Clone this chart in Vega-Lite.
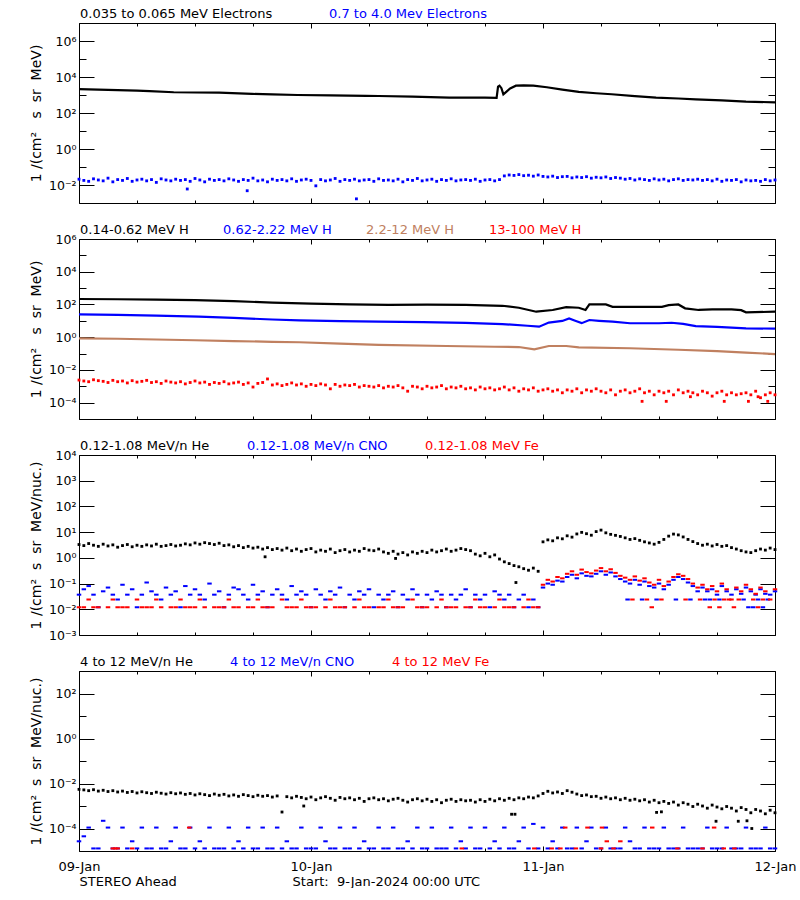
{
"$schema":"https://vega.github.io/schema/vega-lite/v6.json",
"padding":{"left":29,"top":7,"right":0,"bottom":0},
"spacing":13,
"resolve":{"scale":{"color":"independent"},"legend":{"color":"independent"}},
"config":{"font":"DejaVu Sans","view":{"stroke":null},
"axis":{"domainColor":"black","tickColor":"black","labelColor":"black","titleColor":"black","grid":false,"labelFontSize":12.5,"titleFontSize":14,"titleFontWeight":"normal","domainWidth":1,"tickWidth":1,"labelFlush":false,"labelOverlap":false},
"legend":{"orient":"top","direction":"horizontal","title":null,"symbolSize":0,"symbolOpacity":0,"symbolStrokeWidth":0,"labelOffset":-12,"labelFontSize":13,"labelLimit":500,"offset":1,"padding":0}},
"datasets":{
"p1a":[{"t":0,"v":2100},{"t":3,"v":1950},{"t":6,"v":1750},{"t":7.3,"v":1660},{"t":9.8,"v":1420},{"t":12,"v":1380},{"t":14.5,"v":1350},{"t":17.9,"v":1150},{"t":20,"v":1080},{"t":22.6,"v":1000},{"t":26,"v":950},{"t":29.7,"v":890},{"t":31,"v":880},{"t":34.5,"v":810},{"t":38.3,"v":720},{"t":42,"v":710},{"t":43.2,"v":700},{"t":43.35,"v":2900},{"t":43.5,"v":3300},{"t":43.7,"v":2400},{"t":43.9,"v":1100},{"t":44.2,"v":1500},{"t":44.6,"v":2300},{"t":45.2,"v":3300},{"t":46,"v":3450},{"t":47,"v":3300},{"t":48.4,"v":2700},{"t":50,"v":2000},{"t":51.7,"v":1500},{"t":53.5,"v":1250},{"t":55.1,"v":1100},{"t":57.5,"v":870},{"t":59.7,"v":710},{"t":62,"v":640},{"t":63.8,"v":575},{"t":66.5,"v":500},{"t":69,"v":430},{"t":72,"v":390}],
"p1b":[{"t":0,"v":0.021},{"t":0.5,"v":0.018},{"t":1,"v":0.016},{"t":1.5,"v":0.022},{"t":2,"v":0.019},{"t":2.5,"v":0.017},{"t":3,"v":0.024},{"t":3.5,"v":0.015},{"t":4,"v":0.02},{"t":4.5,"v":0.018},{"t":5,"v":0.023},{"t":5.5,"v":0.016},{"t":6,"v":0.019},{"t":6.5,"v":0.021},{"t":7,"v":0.017},{"t":7.5,"v":0.02},{"t":8,"v":0.014},{"t":8.5,"v":0.022},{"t":9,"v":0.019},{"t":9.5,"v":0.017},{"t":10,"v":0.021},{"t":10.5,"v":0.018},{"t":11,"v":0.02},{"t":11.2,"v":0.006},{"t":11.5,"v":0.016},{"t":12,"v":0.023},{"t":12.5,"v":0.019},{"t":13,"v":0.015},{"t":13.5,"v":0.021},{"t":14,"v":0.018},{"t":14.5,"v":0.02},{"t":15,"v":0.017},{"t":15.5,"v":0.022},{"t":16,"v":0.019},{"t":16.5,"v":0.016},{"t":17,"v":0.02},{"t":17.4,"v":0.0048},{"t":17.5,"v":0.018},{"t":18,"v":0.024},{"t":18.5,"v":0.017},{"t":19,"v":0.019},{"t":19.5,"v":0.015},{"t":20,"v":0.021},{"t":20.5,"v":0.018},{"t":21,"v":0.02},{"t":21.5,"v":0.017},{"t":22,"v":0.022},{"t":22.5,"v":0.016},{"t":23,"v":0.019},{"t":23.5,"v":0.021},{"t":24,"v":0.018},{"t":24.5,"v":0.009},{"t":25,"v":0.02},{"t":25.5,"v":0.017},{"t":26,"v":0.019},{"t":26.5,"v":0.023},{"t":27,"v":0.016},{"t":27.5,"v":0.02},{"t":28,"v":0.018},{"t":28.5,"v":0.021},{"t":28.7,"v":0.0017},{"t":29,"v":0.017},{"t":29.5,"v":0.019},{"t":30,"v":0.02},{"t":30.5,"v":0.016},{"t":31,"v":0.022},{"t":31.5,"v":0.018},{"t":32,"v":0.019},{"t":32.5,"v":0.017},{"t":33,"v":0.021},{"t":33.5,"v":0.015},{"t":34,"v":0.02},{"t":34.5,"v":0.018},{"t":35,"v":0.023},{"t":35.5,"v":0.017},{"t":36,"v":0.019},{"t":36.5,"v":0.021},{"t":37,"v":0.016},{"t":37.5,"v":0.02},{"t":38,"v":0.018},{"t":38.5,"v":0.022},{"t":39,"v":0.017},{"t":39.5,"v":0.019},{"t":40,"v":0.02},{"t":40.5,"v":0.018},{"t":41,"v":0.021},{"t":41.5,"v":0.016},{"t":42,"v":0.019},{"t":42.5,"v":0.02},{"t":43,"v":0.017},{"t":43.5,"v":0.02},{"t":44,"v":0.032},{"t":44.5,"v":0.036},{"t":45,"v":0.034},{"t":45.5,"v":0.038},{"t":46,"v":0.033},{"t":46.5,"v":0.035},{"t":47,"v":0.031},{"t":47.5,"v":0.036},{"t":48,"v":0.03},{"t":48.5,"v":0.028},{"t":49,"v":0.031},{"t":49.5,"v":0.026},{"t":50,"v":0.029},{"t":50.5,"v":0.03},{"t":51,"v":0.025},{"t":51.5,"v":0.028},{"t":52,"v":0.026},{"t":52.5,"v":0.029},{"t":53,"v":0.024},{"t":53.5,"v":0.027},{"t":54,"v":0.025},{"t":54.5,"v":0.028},{"t":55,"v":0.023},{"t":55.5,"v":0.026},{"t":56,"v":0.024},{"t":56.5,"v":0.021},{"t":57,"v":0.023},{"t":57.5,"v":0.019},{"t":58,"v":0.022},{"t":58.5,"v":0.02},{"t":59,"v":0.018},{"t":59.5,"v":0.022},{"t":60,"v":0.019},{"t":60.5,"v":0.021},{"t":61,"v":0.017},{"t":61.5,"v":0.02},{"t":62,"v":0.022},{"t":62.5,"v":0.018},{"t":63,"v":0.02},{"t":63.5,"v":0.019},{"t":64,"v":0.021},{"t":64.5,"v":0.018},{"t":65,"v":0.02},{"t":65.5,"v":0.017},{"t":66,"v":0.021},{"t":66.5,"v":0.016},{"t":67,"v":0.019},{"t":67.5,"v":0.018},{"t":68,"v":0.02},{"t":68.5,"v":0.015},{"t":69,"v":0.019},{"t":69.5,"v":0.017},{"t":70,"v":0.018},{"t":70.5,"v":0.016},{"t":71,"v":0.02},{"t":71.5,"v":0.017},{"t":72,"v":0.019}],
"p2a":[{"t":0,"v":215},{"t":4,"v":208},{"t":8,"v":195},{"t":12,"v":182},{"t":16,"v":162},{"t":20,"v":128},{"t":24,"v":112},{"t":28,"v":102},{"t":32,"v":95},{"t":36,"v":98},{"t":40,"v":95},{"t":43.8,"v":83},{"t":45.5,"v":63},{"t":47.3,"v":36},{"t":49,"v":46},{"t":50.4,"v":69},{"t":51.7,"v":63},{"t":52.4,"v":46},{"t":52.8,"v":100},{"t":54.5,"v":100},{"t":55.2,"v":72},{"t":60.3,"v":72},{"t":61,"v":91},{"t":62,"v":100},{"t":62.7,"v":58},{"t":64.1,"v":46},{"t":65.5,"v":50},{"t":67.5,"v":50},{"t":68.5,"v":45},{"t":69,"v":33},{"t":72,"v":36}],
"p2b":[{"t":0,"v":25},{"t":4,"v":23},{"t":8,"v":21},{"t":12.4,"v":17.8},{"t":16,"v":15},{"t":20,"v":12},{"t":22.8,"v":10.7},{"t":27,"v":9.5},{"t":31,"v":8.9},{"t":35.6,"v":8.3},{"t":40,"v":7.4},{"t":43.8,"v":6.3},{"t":46.4,"v":5},{"t":47.6,"v":4.4},{"t":48.6,"v":7.8},{"t":50,"v":9.8},{"t":50.7,"v":14},{"t":51.4,"v":9.8},{"t":52,"v":7.2},{"t":52.8,"v":11.2},{"t":53.8,"v":10},{"t":55.2,"v":8.9},{"t":57,"v":7.1},{"t":60,"v":7.1},{"t":61.3,"v":7.6},{"t":62.5,"v":6.5},{"t":63.8,"v":4.8},{"t":66,"v":4.3},{"t":69,"v":3.5},{"t":72,"v":3.3}],
"p2c":[{"t":0,"v":0.85},{"t":4,"v":0.8},{"t":8,"v":0.72},{"t":12,"v":0.65},{"t":16,"v":0.58},{"t":20,"v":0.52},{"t":22.8,"v":0.49},{"t":27,"v":0.4},{"t":31,"v":0.34},{"t":38,"v":0.29},{"t":43,"v":0.26},{"t":45.5,"v":0.25},{"t":47.1,"v":0.18},{"t":48.6,"v":0.29},{"t":50.4,"v":0.29},{"t":51.7,"v":0.24},{"t":57,"v":0.21},{"t":62,"v":0.17},{"t":66,"v":0.14},{"t":69,"v":0.115},{"t":72,"v":0.093}],
"p2d":[{"t":0,"v":0.0024},{"t":0.5,"v":0.0021},{"t":1,"v":0.0019},{"t":1.5,"v":0.0025},{"t":2,"v":0.0022},{"t":2.5,"v":0.002},{"t":3,"v":0.0017},{"t":3.5,"v":0.0023},{"t":4,"v":0.0019},{"t":4.5,"v":0.0021},{"t":5,"v":0.0016},{"t":5.5,"v":0.0022},{"t":6,"v":0.0018},{"t":6.5,"v":0.002},{"t":7,"v":0.0023},{"t":7.5,"v":0.0017},{"t":8,"v":0.0019},{"t":8.5,"v":0.0015},{"t":9,"v":0.0021},{"t":9.5,"v":0.0018},{"t":10,"v":0.0016},{"t":10.5,"v":0.0019},{"t":11,"v":0.0014},{"t":11.5,"v":0.0017},{"t":12,"v":0.0021},{"t":12.5,"v":0.0016},{"t":13,"v":0.0018},{"t":13.5,"v":0.0013},{"t":14,"v":0.0017},{"t":14.5,"v":0.0015},{"t":15,"v":0.0019},{"t":15.5,"v":0.0014},{"t":16,"v":0.0016},{"t":16.5,"v":0.0018},{"t":17,"v":0.0013},{"t":17.5,"v":0.0016},{"t":18,"v":0.0009},{"t":18.5,"v":0.0015},{"t":19,"v":0.0017},{"t":19.5,"v":0.0028},{"t":20,"v":0.0012},{"t":20.5,"v":0.0014},{"t":21,"v":0.0011},{"t":21.5,"v":0.0013},{"t":22,"v":0.0016},{"t":22.5,"v":0.0012},{"t":23,"v":0.0014},{"t":23.5,"v":0.001},{"t":24,"v":0.0013},{"t":24.5,"v":0.0011},{"t":25,"v":0.0014},{"t":25.5,"v":0.0012},{"t":26,"v":0.0007},{"t":26.5,"v":0.0013},{"t":27,"v":0.001},{"t":27.5,"v":0.0012},{"t":28,"v":0.0011},{"t":28.5,"v":0.0013},{"t":29,"v":0.0009},{"t":29.5,"v":0.0011},{"t":30,"v":0.001},{"t":30.5,"v":0.0009},{"t":31,"v":0.0011},{"t":31.5,"v":0.0008},{"t":32,"v":0.001},{"t":32.5,"v":0.0009},{"t":33,"v":0.0011},{"t":33.5,"v":0.0008},{"t":34,"v":0.0005},{"t":34.5,"v":0.001},{"t":35,"v":0.0009},{"t":35.5,"v":0.0007},{"t":36,"v":0.001},{"t":36.5,"v":0.0008},{"t":37,"v":0.0009},{"t":37.5,"v":0.0011},{"t":38,"v":0.0007},{"t":38.5,"v":0.0009},{"t":39,"v":0.0008},{"t":39.5,"v":0.001},{"t":40,"v":0.0007},{"t":40.5,"v":0.0008},{"t":41,"v":0.0006},{"t":41.5,"v":0.0009},{"t":42,"v":0.0007},{"t":42.5,"v":0.0008},{"t":43,"v":0.0006},{"t":43.5,"v":0.0007},{"t":44,"v":0.0009},{"t":44.5,"v":0.0006},{"t":45,"v":0.0008},{"t":45.5,"v":0.0005},{"t":46,"v":0.0007},{"t":46.5,"v":0.0006},{"t":47,"v":0.0008},{"t":47.5,"v":0.0005},{"t":48,"v":0.0006},{"t":48.5,"v":0.0007},{"t":49,"v":0.0005},{"t":49.5,"v":0.0006},{"t":50,"v":0.0004},{"t":50.5,"v":0.0006},{"t":51,"v":0.0005},{"t":51.5,"v":0.0007},{"t":52,"v":0.0004},{"t":52.5,"v":0.0006},{"t":53,"v":0.0005},{"t":53.5,"v":0.0007},{"t":54,"v":0.0005},{"t":54.5,"v":0.0004},{"t":55,"v":0.0006},{"t":55.5,"v":0.0003},{"t":56,"v":0.0005},{"t":56.5,"v":0.0006},{"t":57,"v":0.0004},{"t":57.5,"v":0.0005},{"t":58,"v":0.0007},{"t":58.25,"v":0.00012},{"t":58.5,"v":0.0004},{"t":59,"v":0.0005},{"t":59.5,"v":0.0003},{"t":60,"v":0.0005},{"t":60.5,"v":0.0004},{"t":60.75,"v":0.00012},{"t":61,"v":0.0005},{"t":61.5,"v":0.0003},{"t":62,"v":0.0006},{"t":62.5,"v":0.0004},{"t":63,"v":0.0005},{"t":63.25,"v":0.00023},{"t":63.5,"v":0.0004},{"t":64,"v":0.0003},{"t":64.5,"v":0.0005},{"t":65,"v":0.0004},{"t":65.5,"v":0.00025},{"t":66,"v":0.0004},{"t":66.5,"v":0.0005},{"t":66.75,"v":0.00012},{"t":67,"v":0.0003},{"t":67.5,"v":0.0004},{"t":68,"v":0.0003},{"t":68.5,"v":0.00035},{"t":69,"v":0.0004},{"t":69.25,"v":0.00012},{"t":69.5,"v":0.0003},{"t":70,"v":0.0005},{"t":70.25,"v":0.00023},{"t":70.5,"v":0.0002},{"t":71,"v":0.0003},{"t":71.25,"v":0.00012},{"t":71.5,"v":0.0004},{"t":72,"v":0.0003}],
"p3a":[{"t":0,"v":3.3},{"t":0.5,"v":3.0},{"t":1,"v":3.6},{"t":1.5,"v":3.1},{"t":2,"v":2.8},{"t":2.5,"v":3.4},{"t":3,"v":2.9},{"t":3.5,"v":3.2},{"t":4,"v":2.6},{"t":4.5,"v":3.0},{"t":5,"v":3.3},{"t":5.5,"v":2.7},{"t":6,"v":3.1},{"t":6.5,"v":2.8},{"t":7,"v":3.2},{"t":7.5,"v":2.9},{"t":8,"v":3.4},{"t":8.5,"v":2.8},{"t":9,"v":3.0},{"t":9.5,"v":3.3},{"t":10,"v":2.9},{"t":10.5,"v":3.1},{"t":11,"v":3.5},{"t":11.5,"v":3.2},{"t":12,"v":3.8},{"t":12.5,"v":3.4},{"t":13,"v":3.9},{"t":13.5,"v":3.6},{"t":14,"v":3.3},{"t":14.5,"v":3.7},{"t":15,"v":3.0},{"t":15.5,"v":3.2},{"t":16,"v":2.7},{"t":16.5,"v":3.0},{"t":17,"v":2.5},{"t":17.5,"v":2.8},{"t":18,"v":2.4},{"t":18.5,"v":2.6},{"t":19,"v":2.2},{"t":19.25,"v":1.1},{"t":19.5,"v":2.5},{"t":20,"v":2.1},{"t":20.5,"v":2.3},{"t":21,"v":2.0},{"t":21.5,"v":2.4},{"t":22,"v":1.9},{"t":22.5,"v":2.2},{"t":23,"v":1.8},{"t":23.5,"v":2.1},{"t":24,"v":2.3},{"t":24.5,"v":1.7},{"t":25,"v":2.0},{"t":25.5,"v":1.8},{"t":26,"v":2.2},{"t":26.5,"v":1.6},{"t":27,"v":1.9},{"t":27.5,"v":2.1},{"t":28,"v":1.7},{"t":28.5,"v":2.0},{"t":29,"v":1.8},{"t":29.5,"v":2.3},{"t":30,"v":2.0},{"t":30.5,"v":1.9},{"t":31,"v":2.2},{"t":31.5,"v":1.7},{"t":32,"v":1.5},{"t":32.5,"v":1.8},{"t":32.75,"v":0.95},{"t":33,"v":1.4},{"t":33.5,"v":1.6},{"t":34,"v":1.3},{"t":34.5,"v":1.7},{"t":35,"v":1.5},{"t":35.5,"v":1.8},{"t":36,"v":1.6},{"t":36.5,"v":2.0},{"t":37,"v":1.7},{"t":37.5,"v":1.9},{"t":38,"v":2.2},{"t":38.5,"v":1.8},{"t":39,"v":2.0},{"t":39.5,"v":2.3},{"t":40,"v":2.1},{"t":40.5,"v":1.9},{"t":41,"v":1.4},{"t":41.5,"v":1.2},{"t":42,"v":1.5},{"t":42.5,"v":1.1},{"t":43,"v":1.3},{"t":43.5,"v":0.9},{"t":44,"v":0.7},{"t":44.5,"v":0.6},{"t":45,"v":0.5},{"t":45.2,"v":0.11},{"t":45.5,"v":0.45},{"t":46,"v":0.38},{"t":46.5,"v":0.33},{"t":47,"v":0.4},{"t":47.5,"v":0.3},{"t":48,"v":4.2},{"t":48.5,"v":5.0},{"t":49,"v":4.6},{"t":49.5,"v":6.0},{"t":50,"v":5.5},{"t":50.5,"v":7.2},{"t":51,"v":6.4},{"t":51.5,"v":8.5},{"t":52,"v":9.8},{"t":52.5,"v":8.7},{"t":53,"v":7.6},{"t":53.5,"v":10.5},{"t":54,"v":12.0},{"t":54.5,"v":9.4},{"t":55,"v":8.2},{"t":55.5,"v":7.5},{"t":56,"v":6.8},{"t":56.5,"v":6.0},{"t":57,"v":5.2},{"t":57.5,"v":5.6},{"t":58,"v":4.8},{"t":58.5,"v":4.2},{"t":59,"v":3.8},{"t":59.5,"v":3.4},{"t":60,"v":4.0},{"t":60.5,"v":5.2},{"t":61,"v":7.0},{"t":61.5,"v":8.4},{"t":62,"v":7.8},{"t":62.5,"v":6.5},{"t":63,"v":5.2},{"t":63.5,"v":4.3},{"t":64,"v":3.6},{"t":64.5,"v":3.1},{"t":65,"v":3.4},{"t":65.5,"v":2.9},{"t":66,"v":3.3},{"t":66.5,"v":2.8},{"t":67,"v":3.0},{"t":67.5,"v":2.5},{"t":68,"v":2.2},{"t":68.5,"v":1.9},{"t":69,"v":1.7},{"t":69.5,"v":1.6},{"t":70,"v":1.9},{"t":70.5,"v":2.2},{"t":71,"v":2.0},{"t":71.5,"v":2.4},{"t":72,"v":2.1}],
"p3b":[{"t":0,"v":0.037},{"t":0.5,"v":0.06},{"t":1,"v":0.08},{"t":1.5,"v":0.037},{"t":2,"v":0.012},{"t":2.5,"v":0.05},{"t":3,"v":0.07},{"t":3.5,"v":0.037},{"t":4,"v":0.024},{"t":4.5,"v":0.09},{"t":5,"v":0.037},{"t":5.5,"v":0.06},{"t":6,"v":0.012},{"t":6.5,"v":0.037},{"t":7,"v":0.11},{"t":7.5,"v":0.05},{"t":8,"v":0.037},{"t":8.5,"v":0.024},{"t":9,"v":0.07},{"t":9.5,"v":0.037},{"t":10,"v":0.05},{"t":10.5,"v":0.012},{"t":11,"v":0.08},{"t":11.5,"v":0.037},{"t":12,"v":0.06},{"t":12.5,"v":0.037},{"t":13,"v":0.024},{"t":13.5,"v":0.1},{"t":14,"v":0.037},{"t":14.5,"v":0.05},{"t":15,"v":0.012},{"t":15.5,"v":0.037},{"t":16,"v":0.07},{"t":16.5,"v":0.06},{"t":17,"v":0.037},{"t":17.5,"v":0.024},{"t":18,"v":0.09},{"t":18.5,"v":0.037},{"t":19,"v":0.05},{"t":19.5,"v":0.012},{"t":20,"v":0.037},{"t":20.5,"v":0.06},{"t":21,"v":0.037},{"t":21.5,"v":0.024},{"t":22,"v":0.08},{"t":22.5,"v":0.037},{"t":23,"v":0.05},{"t":23.5,"v":0.037},{"t":24,"v":0.012},{"t":24.5,"v":0.06},{"t":25,"v":0.037},{"t":25.5,"v":0.024},{"t":26,"v":0.05},{"t":26.5,"v":0.037},{"t":27,"v":0.07},{"t":27.5,"v":0.012},{"t":28,"v":0.037},{"t":28.5,"v":0.024},{"t":29,"v":0.05},{"t":29.5,"v":0.037},{"t":30,"v":0.06},{"t":30.5,"v":0.012},{"t":31,"v":0.037},{"t":31.5,"v":0.024},{"t":32,"v":0.037},{"t":32.5,"v":0.05},{"t":33,"v":0.012},{"t":33.5,"v":0.037},{"t":34,"v":0.024},{"t":34.5,"v":0.06},{"t":35,"v":0.037},{"t":35.5,"v":0.012},{"t":36,"v":0.037},{"t":36.5,"v":0.024},{"t":37,"v":0.05},{"t":37.5,"v":0.037},{"t":38,"v":0.012},{"t":38.5,"v":0.037},{"t":39,"v":0.024},{"t":39.5,"v":0.037},{"t":40,"v":0.06},{"t":40.5,"v":0.012},{"t":41,"v":0.037},{"t":41.5,"v":0.024},{"t":42,"v":0.037},{"t":42.5,"v":0.012},{"t":43,"v":0.05},{"t":43.5,"v":0.037},{"t":44,"v":0.024},{"t":44.5,"v":0.037},{"t":45,"v":0.012},{"t":45.5,"v":0.024},{"t":46,"v":0.037},{"t":46.5,"v":0.012},{"t":47,"v":0.024},{"t":47.5,"v":0.012},{"t":48,"v":0.07},{"t":48.5,"v":0.1},{"t":49,"v":0.09},{"t":49.5,"v":0.13},{"t":50,"v":0.12},{"t":50.5,"v":0.18},{"t":51,"v":0.22},{"t":51.5,"v":0.16},{"t":52,"v":0.25},{"t":52.5,"v":0.2},{"t":53,"v":0.19},{"t":53.5,"v":0.24},{"t":54,"v":0.3},{"t":54.5,"v":0.22},{"t":55,"v":0.27},{"t":55.5,"v":0.19},{"t":56,"v":0.15},{"t":56.5,"v":0.12},{"t":56.75,"v":0.024},{"t":57,"v":0.1},{"t":57.5,"v":0.14},{"t":58,"v":0.09},{"t":58.25,"v":0.024},{"t":58.5,"v":0.12},{"t":59,"v":0.08},{"t":59.5,"v":0.07},{"t":59.75,"v":0.024},{"t":60,"v":0.1},{"t":60.5,"v":0.06},{"t":61,"v":0.09},{"t":61.5,"v":0.14},{"t":61.75,"v":0.024},{"t":62,"v":0.18},{"t":62.5,"v":0.15},{"t":63,"v":0.11},{"t":63.25,"v":0.024},{"t":63.5,"v":0.08},{"t":64,"v":0.05},{"t":64.5,"v":0.07},{"t":64.75,"v":0.024},{"t":65,"v":0.05},{"t":65.25,"v":0.024},{"t":65.5,"v":0.06},{"t":66,"v":0.037},{"t":66.25,"v":0.024},{"t":66.5,"v":0.08},{"t":67,"v":0.05},{"t":67.5,"v":0.037},{"t":68,"v":0.06},{"t":68.5,"v":0.04},{"t":68.75,"v":0.024},{"t":69,"v":0.07},{"t":69.25,"v":0.012},{"t":69.5,"v":0.05},{"t":69.75,"v":0.012},{"t":70,"v":0.037},{"t":70.25,"v":0.024},{"t":70.5,"v":0.06},{"t":70.75,"v":0.012},{"t":71,"v":0.04},{"t":71.25,"v":0.024},{"t":71.5,"v":0.037},{"t":72,"v":0.05}],
"p3c":[{"t":0,"v":0.012},{"t":0.5,"v":0.012},{"t":1,"v":0.024},{"t":1.5,"v":0.012},{"t":2,"v":0.012},{"t":3,"v":0.012},{"t":3.5,"v":0.024},{"t":4,"v":0.012},{"t":4.5,"v":0.012},{"t":5,"v":0.012},{"t":6,"v":0.024},{"t":6.5,"v":0.012},{"t":7,"v":0.012},{"t":7.5,"v":0.012},{"t":8,"v":0.024},{"t":8.5,"v":0.012},{"t":9.5,"v":0.012},{"t":10,"v":0.012},{"t":10.5,"v":0.024},{"t":11,"v":0.012},{"t":11.5,"v":0.012},{"t":12,"v":0.012},{"t":12.5,"v":0.024},{"t":13,"v":0.012},{"t":14,"v":0.012},{"t":14.5,"v":0.012},{"t":15,"v":0.012},{"t":15.5,"v":0.024},{"t":16,"v":0.012},{"t":16.5,"v":0.012},{"t":17.5,"v":0.012},{"t":18,"v":0.012},{"t":18.5,"v":0.024},{"t":19,"v":0.012},{"t":19.5,"v":0.012},{"t":20,"v":0.012},{"t":21,"v":0.024},{"t":21.5,"v":0.012},{"t":22,"v":0.012},{"t":22.5,"v":0.012},{"t":23,"v":0.024},{"t":23.5,"v":0.012},{"t":24,"v":0.012},{"t":24.5,"v":0.012},{"t":25.5,"v":0.012},{"t":26,"v":0.024},{"t":26.5,"v":0.012},{"t":27,"v":0.012},{"t":27.5,"v":0.012},{"t":28.5,"v":0.012},{"t":29,"v":0.024},{"t":29.5,"v":0.012},{"t":30,"v":0.012},{"t":31,"v":0.012},{"t":31.5,"v":0.012},{"t":32,"v":0.024},{"t":32.5,"v":0.012},{"t":33,"v":0.012},{"t":33.5,"v":0.012},{"t":34.5,"v":0.024},{"t":35,"v":0.012},{"t":35.5,"v":0.012},{"t":36,"v":0.012},{"t":37,"v":0.012},{"t":37.5,"v":0.024},{"t":38,"v":0.012},{"t":38.5,"v":0.012},{"t":39,"v":0.012},{"t":40,"v":0.012},{"t":40.5,"v":0.012},{"t":41,"v":0.024},{"t":41.5,"v":0.012},{"t":42,"v":0.012},{"t":43,"v":0.012},{"t":43.5,"v":0.024},{"t":44,"v":0.012},{"t":44.5,"v":0.012},{"t":45,"v":0.012},{"t":46,"v":0.012},{"t":46.5,"v":0.024},{"t":47,"v":0.012},{"t":47.5,"v":0.012},{"t":48,"v":0.09},{"t":48.5,"v":0.14},{"t":49,"v":0.12},{"t":49.5,"v":0.18},{"t":50,"v":0.16},{"t":50.5,"v":0.24},{"t":51,"v":0.3},{"t":51.5,"v":0.22},{"t":52,"v":0.35},{"t":52.5,"v":0.28},{"t":53,"v":0.25},{"t":53.5,"v":0.32},{"t":54,"v":0.4},{"t":54.5,"v":0.3},{"t":55,"v":0.36},{"t":55.5,"v":0.26},{"t":56,"v":0.2},{"t":56.5,"v":0.17},{"t":57,"v":0.14},{"t":57.25,"v":0.024},{"t":57.5,"v":0.19},{"t":58,"v":0.13},{"t":58.5,"v":0.16},{"t":58.75,"v":0.024},{"t":59,"v":0.11},{"t":59.25,"v":0.012},{"t":59.5,"v":0.09},{"t":60,"v":0.14},{"t":60.25,"v":0.024},{"t":60.5,"v":0.08},{"t":61,"v":0.12},{"t":61.5,"v":0.18},{"t":62,"v":0.23},{"t":62.5,"v":0.2},{"t":62.75,"v":0.024},{"t":63,"v":0.15},{"t":63.5,"v":0.1},{"t":64,"v":0.07},{"t":64.25,"v":0.024},{"t":64.5,"v":0.09},{"t":65,"v":0.06},{"t":65.25,"v":0.012},{"t":65.5,"v":0.08},{"t":65.75,"v":0.024},{"t":66,"v":0.05},{"t":66.25,"v":0.012},{"t":66.5,"v":0.1},{"t":66.75,"v":0.024},{"t":67,"v":0.06},{"t":67.25,"v":0.024},{"t":67.5,"v":0.024},{"t":67.75,"v":0.012},{"t":68,"v":0.07},{"t":68.25,"v":0.024},{"t":68.5,"v":0.05},{"t":69,"v":0.09},{"t":69.5,"v":0.06},{"t":69.75,"v":0.024},{"t":70,"v":0.04},{"t":70.25,"v":0.012},{"t":70.5,"v":0.07},{"t":70.75,"v":0.024},{"t":71,"v":0.05},{"t":71.5,"v":0.024},{"t":72,"v":0.06}],
"p4a":[{"t":0,"v":0.0055},{"t":0.5,"v":0.0052},{"t":1,"v":0.0048},{"t":1.5,"v":0.0053},{"t":2,"v":0.0046},{"t":2.5,"v":0.005},{"t":3,"v":0.0044},{"t":3.5,"v":0.0048},{"t":4,"v":0.0042},{"t":4.5,"v":0.0046},{"t":5,"v":0.004},{"t":5.5,"v":0.0044},{"t":6,"v":0.0038},{"t":6.5,"v":0.0043},{"t":7,"v":0.0039},{"t":7.5,"v":0.0036},{"t":8,"v":0.0041},{"t":8.5,"v":0.0037},{"t":9,"v":0.0034},{"t":9.5,"v":0.0039},{"t":10,"v":0.0035},{"t":10.5,"v":0.0038},{"t":11,"v":0.0033},{"t":11.5,"v":0.0036},{"t":12,"v":0.0031},{"t":12.5,"v":0.0035},{"t":13,"v":0.0032},{"t":13.5,"v":0.0029},{"t":14,"v":0.0034},{"t":14.5,"v":0.003},{"t":15,"v":0.0033},{"t":15.5,"v":0.0028},{"t":16,"v":0.0031},{"t":16.5,"v":0.0027},{"t":17,"v":0.0032},{"t":17.5,"v":0.0029},{"t":18,"v":0.0026},{"t":18.5,"v":0.003},{"t":19,"v":0.0027},{"t":19.5,"v":0.0029},{"t":20,"v":0.0025},{"t":20.5,"v":0.0028},{"t":21,"v":0.00054},{"t":21.5,"v":0.0026},{"t":22,"v":0.0023},{"t":22.5,"v":0.0027},{"t":23,"v":0.0024},{"t":23.25,"v":0.001},{"t":23.5,"v":0.0021},{"t":24,"v":0.0025},{"t":24.5,"v":0.0019},{"t":25,"v":0.0023},{"t":25.5,"v":0.0026},{"t":26,"v":0.0022},{"t":26.5,"v":0.0018},{"t":27,"v":0.0024},{"t":27.5,"v":0.0021},{"t":28,"v":0.0023},{"t":28.5,"v":0.0019},{"t":29,"v":0.0022},{"t":29.5,"v":0.0016},{"t":30,"v":0.0021},{"t":30.5,"v":0.0023},{"t":31,"v":0.0019},{"t":31.5,"v":0.0021},{"t":32,"v":0.0017},{"t":32.5,"v":0.002},{"t":33,"v":0.0022},{"t":33.5,"v":0.0018},{"t":34,"v":0.0015},{"t":34.5,"v":0.0019},{"t":35,"v":0.0021},{"t":35.5,"v":0.0017},{"t":36,"v":0.002},{"t":36.5,"v":0.0016},{"t":37,"v":0.0019},{"t":37.5,"v":0.0014},{"t":38,"v":0.0018},{"t":38.5,"v":0.002},{"t":39,"v":0.0016},{"t":39.5,"v":0.0019},{"t":40,"v":0.0017},{"t":40.5,"v":0.0018},{"t":41,"v":0.0015},{"t":41.5,"v":0.0019},{"t":42,"v":0.0016},{"t":42.5,"v":0.002},{"t":43,"v":0.0017},{"t":43.5,"v":0.0021},{"t":44,"v":0.0018},{"t":44.5,"v":0.0022},{"t":44.75,"v":0.00043},{"t":45,"v":0.0019},{"t":45.1,"v":0.00043},{"t":45.5,"v":0.0023},{"t":46,"v":0.0021},{"t":46.5,"v":0.0025},{"t":47,"v":0.0023},{"t":47.5,"v":0.0028},{"t":48,"v":0.0036},{"t":48.5,"v":0.0045},{"t":49,"v":0.0038},{"t":49.5,"v":0.0042},{"t":50,"v":0.0036},{"t":50.5,"v":0.0048},{"t":51,"v":0.0041},{"t":51.5,"v":0.0034},{"t":52,"v":0.0029},{"t":52.5,"v":0.0031},{"t":53,"v":0.0026},{"t":53.5,"v":0.0027},{"t":54,"v":0.0022},{"t":54.5,"v":0.0025},{"t":55,"v":0.0021},{"t":55.5,"v":0.0023},{"t":56,"v":0.0019},{"t":56.5,"v":0.0022},{"t":57,"v":0.0018},{"t":57.5,"v":0.002},{"t":58,"v":0.0017},{"t":58.5,"v":0.0019},{"t":59,"v":0.0015},{"t":59.5,"v":0.0018},{"t":59.75,"v":0.00052},{"t":60,"v":0.0014},{"t":60.25,"v":0.00055},{"t":60.5,"v":0.0016},{"t":61,"v":0.0013},{"t":61.5,"v":0.0015},{"t":62,"v":0.0011},{"t":62.5,"v":0.0014},{"t":63,"v":0.0012},{"t":63.5,"v":0.00095},{"t":64,"v":0.0012},{"t":64.5,"v":0.001},{"t":65,"v":0.0008},{"t":65.5,"v":0.0011},{"t":65.9,"v":0.00021},{"t":66,"v":0.0009},{"t":66.5,"v":0.00075},{"t":67,"v":0.00095},{"t":67.5,"v":0.0008},{"t":68,"v":0.0006},{"t":68.2,"v":0.00021},{"t":68.5,"v":0.00085},{"t":69,"v":0.0007},{"t":69.1,"v":0.00022},{"t":69.5,"v":0.0005},{"t":69.6,"v":0.0001},{"t":70,"v":0.0007},{"t":70.5,"v":0.0006},{"t":71,"v":0.00045},{"t":71.5,"v":0.00065},{"t":72,"v":0.0005}],
"p4b":[{"t":0,"v":2.7e-5},{"t":0.5,"v":4.5e-5},{"t":1,"v":1.1e-4},{"t":1.5,"v":1.3e-5},{"t":2,"v":1.3e-5},{"t":2.5,"v":2.2e-4},{"t":3,"v":1.1e-4},{"t":3.5,"v":1.3e-5},{"t":4,"v":1.3e-5},{"t":4.5,"v":1.1e-4},{"t":5,"v":1.3e-5},{"t":5.5,"v":2.7e-5},{"t":6,"v":1.3e-5},{"t":6.5,"v":1.1e-4},{"t":7,"v":1.3e-5},{"t":7.5,"v":1.3e-5},{"t":8,"v":1.1e-4},{"t":8.5,"v":1.3e-5},{"t":9,"v":1.3e-5},{"t":9.5,"v":2.7e-5},{"t":10,"v":1.1e-4},{"t":10.5,"v":1.3e-5},{"t":11,"v":1.3e-5},{"t":11.5,"v":1.1e-4},{"t":12,"v":1.3e-5},{"t":12.5,"v":2.7e-5},{"t":13,"v":1.3e-5},{"t":13.5,"v":1.1e-4},{"t":14,"v":1.3e-5},{"t":14.5,"v":1.3e-5},{"t":15,"v":1.3e-5},{"t":15.5,"v":1.1e-4},{"t":16,"v":1.3e-5},{"t":16.5,"v":2.7e-5},{"t":17,"v":1.3e-5},{"t":17.5,"v":1.1e-4},{"t":18,"v":1.3e-5},{"t":18.5,"v":1.3e-5},{"t":19,"v":1.1e-4},{"t":19.5,"v":1.3e-5},{"t":20,"v":1.3e-5},{"t":20.5,"v":1.1e-4},{"t":21,"v":1.3e-5},{"t":21.5,"v":2.7e-5},{"t":22,"v":1.3e-5},{"t":22.5,"v":1.3e-5},{"t":23,"v":1.1e-4},{"t":23.5,"v":1.3e-5},{"t":24,"v":1.3e-5},{"t":24.5,"v":1.3e-5},{"t":25,"v":1.1e-4},{"t":25.5,"v":2.7e-5},{"t":26,"v":1.3e-5},{"t":26.5,"v":1.3e-5},{"t":27,"v":1.1e-4},{"t":27.5,"v":1.3e-5},{"t":28,"v":1.3e-5},{"t":28.5,"v":1.1e-4},{"t":29,"v":1.3e-5},{"t":29.5,"v":2.7e-5},{"t":30,"v":1.3e-5},{"t":30.5,"v":1.3e-5},{"t":31,"v":1.1e-4},{"t":31.5,"v":1.3e-5},{"t":32,"v":1.3e-5},{"t":32.5,"v":1.1e-4},{"t":33,"v":1.3e-5},{"t":33.5,"v":1.3e-5},{"t":34,"v":2.7e-5},{"t":34.5,"v":1.3e-5},{"t":35,"v":1.1e-4},{"t":35.5,"v":1.3e-5},{"t":36,"v":1.3e-5},{"t":36.5,"v":1.1e-4},{"t":37,"v":1.3e-5},{"t":37.5,"v":1.3e-5},{"t":38,"v":1.3e-5},{"t":38.5,"v":1.1e-4},{"t":39,"v":1.3e-5},{"t":39.5,"v":2.7e-5},{"t":40,"v":1.3e-5},{"t":40.5,"v":1.1e-4},{"t":41,"v":1.3e-5},{"t":41.5,"v":1.3e-5},{"t":42,"v":1.1e-4},{"t":42.5,"v":1.3e-5},{"t":43,"v":2.7e-5},{"t":43.5,"v":1.3e-5},{"t":44,"v":1.1e-4},{"t":44.5,"v":1.3e-5},{"t":45,"v":1.3e-5},{"t":45.5,"v":2.7e-5},{"t":46,"v":1.1e-4},{"t":46.5,"v":1.3e-5},{"t":47,"v":1.6e-4},{"t":47.5,"v":1.3e-5},{"t":48,"v":1.1e-4},{"t":48.5,"v":1.3e-5},{"t":49,"v":2.7e-5},{"t":49.5,"v":1.3e-5},{"t":50,"v":1.1e-4},{"t":50.5,"v":1.3e-5},{"t":51,"v":1.3e-5},{"t":51.5,"v":1.1e-4},{"t":52,"v":1.3e-5},{"t":52.5,"v":2.7e-5},{"t":53,"v":1.1e-4},{"t":53.5,"v":1.3e-5},{"t":54,"v":1.3e-5},{"t":54.5,"v":1.1e-4},{"t":55,"v":1.3e-5},{"t":55.5,"v":1.3e-5},{"t":56,"v":1.3e-5},{"t":56.5,"v":1.1e-4},{"t":57,"v":2.7e-5},{"t":57.5,"v":1.3e-5},{"t":58,"v":1.3e-5},{"t":58.5,"v":1.1e-4},{"t":59,"v":1.3e-5},{"t":59.5,"v":1.3e-5},{"t":60,"v":1.3e-5},{"t":60.5,"v":1.1e-4},{"t":61,"v":1.3e-5},{"t":61.5,"v":1.3e-5},{"t":62,"v":1.3e-5},{"t":62.5,"v":1.1e-4},{"t":63,"v":1.3e-5},{"t":63.5,"v":1.3e-5},{"t":64,"v":1.3e-5},{"t":64.5,"v":1.3e-5},{"t":65,"v":1.1e-4},{"t":65.5,"v":1.3e-5},{"t":66,"v":1.3e-5},{"t":66.5,"v":1.3e-5},{"t":67,"v":1.1e-4},{"t":67.5,"v":1.3e-5},{"t":68,"v":1.3e-5},{"t":68.5,"v":1.3e-5},{"t":69,"v":1.1e-4},{"t":69.5,"v":1.3e-5},{"t":70,"v":1.3e-5},{"t":70.5,"v":1.3e-5},{"t":71,"v":1.1e-4},{"t":71.5,"v":1.3e-5},{"t":72,"v":1.3e-5}],
"p4c":[{"t":3.5,"v":1.3e-5},{"t":3.75,"v":1.3e-5},{"t":4,"v":1.3e-5},{"t":5.5,"v":1.3e-5},{"t":11.4,"v":1.1e-4},{"t":39.6,"v":1.3e-5},{"t":47.1,"v":1.3e-5},{"t":48.9,"v":1.3e-5},{"t":49.8,"v":1.3e-5},{"t":50.3,"v":1.1e-4},{"t":51.4,"v":1.3e-5},{"t":52.6,"v":1.1e-4},{"t":54,"v":1.3e-5},{"t":54.1,"v":1.1e-4},{"t":54.6,"v":2.7e-5},{"t":55.3,"v":1.3e-5},{"t":56,"v":2.7e-5},{"t":59.3,"v":1.1e-4},{"t":61.9,"v":1.3e-5},{"t":64.5,"v":1.3e-5},{"t":65.7,"v":1.1e-4},{"t":66.7,"v":1.3e-5},{"t":67.8,"v":1.3e-5}]
},
"vconcat":[
{"width":696,"height":180,
"resolve":{"axis":{"x":"independent","y":"independent"}},
"layer":[
{"data":{"name":"p1a"},"mark":{"type":"line","strokeWidth":2.2},
"encoding":{
"x":{"field":"t","type":"quantitative","scale":{"domain":[0,72],"nice":false},"axis":{"orient":"bottom","values":[0,6,12,18,24,30,36,42,48,54,60,66,72],"labels":false,"title":null,"tickSize":{"condition":{"test":"datum.value%24==0","value":-5},"value":-3}}},
"y":{"field":"v","type":"quantitative","scale":{"type":"log","domain":[0.001,10000000],"nice":false},"axis":{"orient":"left","values":[0.001,0.01,0.1,1,10,100,1000,10000,100000,1000000,10000000],"labelExpr":"round(log(datum.value)/LN10)%2==0 ? '10'+['⁻⁵','⁻⁴','⁻³','⁻²','⁻¹','⁰','¹','²','³','⁴','⁵','⁶','⁷'][round(log(datum.value)/LN10)+5] : ''","tickSize":{"condition":{"test":"round(log(datum.value)/LN10)%2==0","value":-15},"value":-7},"labelPadding":18,"title":"1\u00a0/(cm²\u00a0\u00a0\u00a0s\u00a0\u00a0sr\u00a0\u00a0MeV)","titlePadding":5}},
"color":{"datum":"0.035 to 0.065 MeV Electrons","type":"nominal","scale":{"domain":["0.035 to 0.065 MeV Electrons","0.7 to 4.0 Mev Electrons"],"range":["#000000","#0000ff"]},"legend":{"columnPadding":55,"labelColor":{"expr":"datum.value=='0.7 to 4.0 Mev Electrons' ? '#0000ff' : '#000000'"}}}}},
{"data":{"name":"p1b"},"mark":{"type":"point","shape":"square","filled":true,"size":8,"opacity":1},
"encoding":{
"x":{"field":"t","type":"quantitative","scale":{"domain":[0,72],"nice":false},"axis":{"orient":"top","values":[0,6,12,18,24,30,36,42,48,54,60,66,72],"labels":false,"title":null,"tickSize":{"condition":{"test":"datum.value%24==0","value":-5},"value":-3}}},
"y":{"field":"v","type":"quantitative","scale":{"type":"log","domain":[0.001,10000000],"nice":false},"axis":{"orient":"right","values":[0.001,0.01,0.1,1,10,100,1000,10000,100000,1000000,10000000],"labels":false,"title":null,"tickSize":{"condition":{"test":"round(log(datum.value)/LN10)%2==0","value":-15},"value":-7}}},
"color":{"datum":"0.7 to 4.0 Mev Electrons","type":"nominal"}}}
]},
{"width":696,"height":180,
"resolve":{"axis":{"x":"independent","y":"independent"}},
"layer":[
{"data":{"name":"p2a"},"mark":{"type":"line","strokeWidth":2.2},
"encoding":{
"x":{"field":"t","type":"quantitative","scale":{"domain":[0,72],"nice":false},"axis":{"orient":"bottom","values":[0,6,12,18,24,30,36,42,48,54,60,66,72],"labels":false,"title":null,"tickSize":{"condition":{"test":"datum.value%24==0","value":-5},"value":-3}}},
"y":{"field":"v","type":"quantitative","scale":{"type":"log","domain":[0.00001,1000000],"nice":false},"axis":{"orient":"left","values":[0.00001,0.0001,0.001,0.01,0.1,1,10,100,1000,10000,100000,1000000],"labelExpr":"round(log(datum.value)/LN10)%2==0 ? '10'+['⁻⁵','⁻⁴','⁻³','⁻²','⁻¹','⁰','¹','²','³','⁴','⁵','⁶','⁷'][round(log(datum.value)/LN10)+5] : ''","tickSize":{"condition":{"test":"round(log(datum.value)/LN10)%2==0","value":-15},"value":-7},"labelPadding":18,"title":"1\u00a0/(cm²\u00a0\u00a0\u00a0s\u00a0\u00a0sr\u00a0\u00a0MeV)","titlePadding":5}},
"color":{"datum":"0.14-0.62 MeV H","type":"nominal","scale":{"domain":["0.14-0.62 MeV H","0.62-2.22 MeV H","2.2-12 MeV H","13-100 MeV H"],"range":["#000000","#0000ff","#c08060","#ff0000"]},"legend":{"columnPadding":33,"labelColor":{"expr":"['#000000','#0000ff','#c08060','#ff0000'][indexof(['0.14-0.62 MeV H','0.62-2.22 MeV H','2.2-12 MeV H','13-100 MeV H'], datum.value)]"}}}}},
{"data":{"name":"p2b"},"mark":{"type":"line","strokeWidth":2.2},
"encoding":{
"x":{"field":"t","type":"quantitative","scale":{"domain":[0,72],"nice":false},"axis":{"orient":"top","values":[0,6,12,18,24,30,36,42,48,54,60,66,72],"labels":false,"title":null,"tickSize":{"condition":{"test":"datum.value%24==0","value":-5},"value":-3}}},
"y":{"field":"v","type":"quantitative","scale":{"type":"log","domain":[0.00001,1000000],"nice":false},"axis":{"orient":"right","values":[0.00001,0.0001,0.001,0.01,0.1,1,10,100,1000,10000,100000,1000000],"labels":false,"title":null,"tickSize":{"condition":{"test":"round(log(datum.value)/LN10)%2==0","value":-15},"value":-7}}},
"color":{"datum":"0.62-2.22 MeV H","type":"nominal"}}},
{"data":{"name":"p2c"},"mark":{"type":"line","strokeWidth":2.2},
"encoding":{
"x":{"field":"t","type":"quantitative","axis":null},
"y":{"field":"v","type":"quantitative","axis":null},
"color":{"datum":"2.2-12 MeV H","type":"nominal"}}},
{"data":{"name":"p2d"},"mark":{"type":"point","shape":"square","filled":true,"size":8,"opacity":1},
"encoding":{
"x":{"field":"t","type":"quantitative","axis":null},
"y":{"field":"v","type":"quantitative","axis":null},
"color":{"datum":"13-100 MeV H","type":"nominal"}}}
]},
{"width":696,"height":180,
"resolve":{"axis":{"x":"independent","y":"independent"}},
"layer":[
{"data":{"name":"p3a"},"mark":{"type":"point","shape":"square","filled":true,"size":8,"opacity":1},
"encoding":{
"x":{"field":"t","type":"quantitative","scale":{"domain":[0,72],"nice":false},"axis":{"orient":"bottom","values":[0,6,12,18,24,30,36,42,48,54,60,66,72],"labels":false,"title":null,"tickSize":{"condition":{"test":"datum.value%24==0","value":-5},"value":-3}}},
"y":{"field":"v","type":"quantitative","scale":{"type":"log","domain":[0.001,10000],"nice":false},"axis":{"orient":"left","values":[0.001,0.01,0.1,1,10,100,1000,10000],"labelExpr":"'10'+['⁻⁵','⁻⁴','⁻³','⁻²','⁻¹','⁰','¹','²','³','⁴','⁵','⁶','⁷'][round(log(datum.value)/LN10)+5]","tickSize":-15,"labelPadding":18,"title":"1\u00a0/(cm²\u00a0\u00a0s\u00a0\u00a0sr\u00a0\u00a0MeV/nuc.)","titlePadding":5}},
"color":{"datum":"0.12-1.08 MeV/n He","type":"nominal","scale":{"domain":["0.12-1.08 MeV/n He","0.12-1.08 MeV/n CNO","0.12-1.08 MeV Fe"],"range":["#000000","#0000ff","#ff0000"]},"legend":{"columnPadding":36,"labelColor":{"expr":"['#000000','#0000ff','#ff0000'][indexof(['0.12-1.08 MeV/n He','0.12-1.08 MeV/n CNO','0.12-1.08 MeV Fe'], datum.value)]"}}}}},
{"data":{"name":"p3b"},"mark":{"type":"point","shape":"M-1,-0.45H1V0.45H-1Z","filled":true,"size":20,"opacity":1},
"encoding":{
"x":{"field":"t","type":"quantitative","scale":{"domain":[0,72],"nice":false},"axis":{"orient":"top","values":[0,6,12,18,24,30,36,42,48,54,60,66,72],"labels":false,"title":null,"tickSize":{"condition":{"test":"datum.value%24==0","value":-5},"value":-3}}},
"y":{"field":"v","type":"quantitative","scale":{"type":"log","domain":[0.001,10000],"nice":false},"axis":{"orient":"right","values":[0.001,0.01,0.1,1,10,100,1000,10000],"labels":false,"title":null,"tickSize":-15}},
"color":{"datum":"0.12-1.08 MeV/n CNO","type":"nominal"}}},
{"data":{"name":"p3c"},"mark":{"type":"point","shape":"M-1,-0.45H1V0.45H-1Z","filled":true,"size":20,"opacity":1},
"encoding":{
"x":{"field":"t","type":"quantitative","axis":null},
"y":{"field":"v","type":"quantitative","axis":null},
"color":{"datum":"0.12-1.08 MeV Fe","type":"nominal"}}}
]},
{"width":696,"height":180,
"resolve":{"axis":{"x":"independent","y":"independent"}},
"layer":[
{"data":{"name":"p4a"},"mark":{"type":"point","shape":"square","filled":true,"size":8,"opacity":1},
"encoding":{
"x":{"field":"t","type":"quantitative","scale":{"domain":[0,72],"nice":false},"axis":{"orient":"bottom","values":[0,6,12,18,24,30,36,42,48,54,60,66,72],"labels":true,"labelExpr":"datum.value%24==0 ? ['09-Jan','10-Jan','11-Jan','12-Jan'][datum.value/24] : ''","labelFontSize":13,"labelPadding":14,"tickSize":{"condition":{"test":"datum.value%24==0","value":-5},"value":-3},"title":"STEREO Ahead\u00a0\u00a0\u00a0\u00a0\u00a0\u00a0\u00a0\u00a0\u00a0\u00a0\u00a0\u00a0\u00a0\u00a0\u00a0\u00a0\u00a0\u00a0\u00a0\u00a0\u00a0\u00a0\u00a0\u00a0\u00a0\u00a0\u00a0\u00a0Start:\u00a0\u00a09-Jan-2024 00:00 UTC","titleFontSize":13,"titleAnchor":"start","titleAlign":"left","titlePadding":0}},
"y":{"field":"v","type":"quantitative","scale":{"type":"log","domain":[0.00001,1000],"nice":false},"axis":{"orient":"left","values":[0.00001,0.0001,0.001,0.01,0.1,1,10,100,1000],"labelExpr":"round(log(datum.value)/LN10)%2==0 ? '10'+['⁻⁵','⁻⁴','⁻³','⁻²','⁻¹','⁰','¹','²','³','⁴','⁵','⁶','⁷'][round(log(datum.value)/LN10)+5] : ''","tickSize":{"condition":{"test":"round(log(datum.value)/LN10)%2==0","value":-15},"value":-7},"labelPadding":18,"title":"1\u00a0/(cm²\u00a0\u00a0s\u00a0\u00a0sr\u00a0\u00a0MeV/nuc.)","titlePadding":5}},
"color":{"datum":"4 to 12 MeV/n He","type":"nominal","scale":{"domain":["4 to 12 MeV/n He","4 to 12 MeV/n CNO","4 to 12 MeV Fe"],"range":["#000000","#0000ff","#ff0000"]},"legend":{"columnPadding":36,"labelColor":{"expr":"['#000000','#0000ff','#ff0000'][indexof(['4 to 12 MeV/n He','4 to 12 MeV/n CNO','4 to 12 MeV Fe'], datum.value)]"}}}}},
{"data":{"name":"p4b"},"mark":{"type":"point","shape":"M-1,-0.45H1V0.45H-1Z","filled":true,"size":20,"opacity":1},
"encoding":{
"x":{"field":"t","type":"quantitative","scale":{"domain":[0,72],"nice":false},"axis":{"orient":"top","values":[0,6,12,18,24,30,36,42,48,54,60,66,72],"labels":false,"title":null,"tickSize":{"condition":{"test":"datum.value%24==0","value":-5},"value":-3}}},
"y":{"field":"v","type":"quantitative","scale":{"type":"log","domain":[0.00001,1000],"nice":false},"axis":{"orient":"right","values":[0.00001,0.0001,0.001,0.01,0.1,1,10,100,1000],"labels":false,"title":null,"tickSize":{"condition":{"test":"round(log(datum.value)/LN10)%2==0","value":-15},"value":-7}}},
"color":{"datum":"4 to 12 MeV/n CNO","type":"nominal"}}},
{"data":{"name":"p4c"},"mark":{"type":"point","shape":"M-1,-0.45H1V0.45H-1Z","filled":true,"size":20,"opacity":1},
"encoding":{
"x":{"field":"t","type":"quantitative","axis":null},
"y":{"field":"v","type":"quantitative","axis":null},
"color":{"datum":"4 to 12 MeV Fe","type":"nominal"}}}
]}
]
}
